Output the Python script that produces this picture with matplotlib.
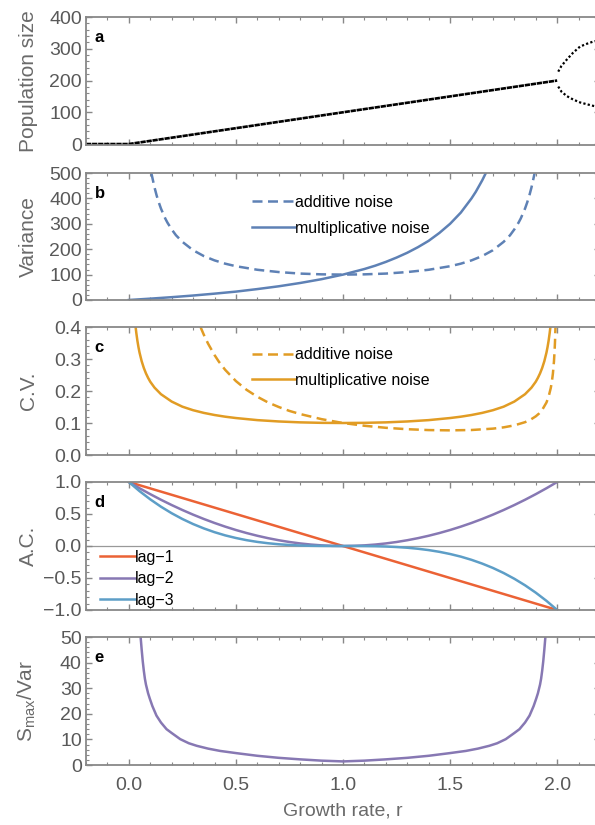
import matplotlib
matplotlib.use("Agg")
import matplotlib.pyplot as plt
from matplotlib.ticker import MultipleLocator

plt.rcParams['font.family'] = ['Liberation Sans', 'DejaVu Sans']
plt.rcParams['mathtext.fontset'] = 'custom'
plt.rcParams['mathtext.rm'] = 'Liberation Sans'
plt.rcParams['mathtext.it'] = 'Liberation Sans'

# --- a: equilibrium population vs growth rate ---
r_eq = [-0.2, 0.0, 0.5, 1.0, 1.5, 2.0]
n_eq = [0, 0, 50, 100, 150, 200]
r_branch = [2.005, 2.02, 2.045, 2.075, 2.107, 2.14, 2.17, 2.2]
n_upper = [228, 246, 266, 288, 307, 316, 323, 327]
n_lower = [181, 165, 151, 140, 131, 125, 120, 116]

# --- b: variance ---
r_add = [0.105, 0.11, 0.12, 0.13, 0.14, 0.15, 0.17, 0.18, 0.2, 0.22, 0.25, 0.3,
         0.35, 0.4, 0.45, 0.5, 0.6, 0.7, 0.8, 0.9, 1.0, 1.1, 1.2, 1.3, 1.4, 1.5,
         1.55, 1.6, 1.65, 1.7, 1.75, 1.78, 1.8, 1.82, 1.83, 1.85, 1.86, 1.87,
         1.88, 1.89, 1.895]
var_add = [500, 481, 443, 411, 384, 360, 321, 305, 278, 255, 229, 196,
           173, 156, 143, 133, 119, 110, 104, 101, 100, 101, 104, 110, 119, 133,
           143, 156, 173, 196, 229, 255, 278, 305, 321, 360, 384, 411,
           443, 481, 500]
r_mult = [0.0, 0.1, 0.2, 0.3, 0.4, 0.5, 0.6, 0.7, 0.8, 0.9, 1.0, 1.1, 1.15,
          1.2, 1.25, 1.3, 1.35, 1.4, 1.45, 1.5, 1.55, 1.6, 1.62, 1.64, 1.65, 1.667]
var_mult = [0, 5.3, 11.1, 17.6, 25, 33, 43, 54, 67, 82, 100, 122, 135,
            150, 167, 186, 208, 233, 264, 300, 344, 400, 426, 456, 471, 500]

# --- c: coefficient of variation ---
r_cv_add = [0.335, 0.34, 0.35, 0.37, 0.4, 0.42, 0.45, 0.5, 0.55, 0.6, 0.65, 0.7,
            0.75, 0.8, 0.9, 1.0, 1.1, 1.2, 1.3, 1.4, 1.5, 1.6, 1.7, 1.75, 1.8,
            1.85, 1.875, 1.9, 1.915, 1.93, 1.95, 1.96, 1.97, 1.975, 1.98, 1.985,
            1.988, 1.99, 1.992]
cv_add = [0.400, 0.3915, 0.376, 0.348, 0.3125, 0.292, 0.266, 0.231, 0.2036,
          0.182, 0.1642, 0.150, 0.1377, 0.128, 0.112, 0.100, 0.0914, 0.0850,
          0.0806, 0.0779, 0.0770, 0.0781, 0.0824, 0.0864, 0.0926, 0.1026,
          0.1102, 0.1208, 0.1294, 0.141, 0.164, 0.1822, 0.209, 0.2278, 0.254,
          0.292, 0.3257, 0.356, 0.398]
r_cv_mult = [0.032, 0.035, 0.04, 0.045, 0.05, 0.06, 0.07, 0.08, 0.09, 0.1, 0.12,
             0.15, 0.2, 0.25, 0.3, 0.35, 0.4, 0.45, 0.5, 0.6, 0.7, 0.8, 0.9, 1.0,
             1.1, 1.2, 1.3, 1.4, 1.5, 1.55, 1.6, 1.65, 1.7, 1.75, 1.8, 1.85, 1.88,
             1.9, 1.91, 1.92, 1.93, 1.94, 1.95, 1.955, 1.96, 1.965, 1.968]
cv_mult = [0.398, 0.381, 0.357, 0.337, 0.320, 0.293, 0.272, 0.255, 0.241, 0.229,
           0.2105, 0.190, 0.167, 0.151, 0.140, 0.1316, 0.125, 0.1197, 0.1155,
           0.109, 0.1048, 0.102, 0.1005, 0.100, 0.1005, 0.102, 0.1048, 0.109,
           0.1155, 0.1197, 0.125, 0.1316, 0.140, 0.151, 0.167, 0.190, 0.2105,
           0.229, 0.241, 0.255, 0.272, 0.293, 0.320, 0.337, 0.357, 0.381, 0.398]

# --- d: autocorrelation ---
r_lag1 = [0.0, 2.0]
ac_lag1 = [1.0, -1.0]
r_ac = [0.0, 0.05, 0.1, 0.15, 0.2, 0.25, 0.3, 0.35, 0.4, 0.45, 0.5, 0.55, 0.6,
        0.65, 0.7, 0.75, 0.8, 0.85, 0.9, 0.95, 1.0, 1.05, 1.1, 1.15, 1.2, 1.25,
        1.3, 1.35, 1.4, 1.45, 1.5, 1.55, 1.6, 1.65, 1.7, 1.75, 1.8, 1.85, 1.9,
        1.95, 2.0]
ac_lag2 = [1.0, 0.9025, 0.81, 0.7225, 0.64, 0.5625, 0.49, 0.4225, 0.36, 0.3025,
           0.25, 0.2025, 0.16, 0.1225, 0.09, 0.0625, 0.04, 0.0225, 0.01, 0.0025,
           0.0, 0.0025, 0.01, 0.0225, 0.04, 0.0625, 0.09, 0.1225, 0.16, 0.2025,
           0.25, 0.3025, 0.36, 0.4225, 0.49, 0.5625, 0.64, 0.7225, 0.81, 0.9025, 1.0]
ac_lag3 = [1.0, 0.857, 0.729, 0.614, 0.512, 0.422, 0.343, 0.275, 0.216, 0.166,
           0.125, 0.091, 0.064, 0.043, 0.027, 0.016, 0.008, 0.003, 0.001, 0.0001,
           0.0, -0.0001, -0.001, -0.003, -0.008, -0.016, -0.027, -0.043, -0.064,
           -0.091, -0.125, -0.166, -0.216, -0.275, -0.343, -0.422, -0.512, -0.614,
           -0.729, -0.857, -1.0]

# --- e: spectral peak over variance ---
r_spec = [0.055, 0.06, 0.065, 0.07, 0.075, 0.08, 0.09, 0.098, 0.11, 0.129, 0.15,
          0.176, 0.2, 0.24, 0.28, 0.317, 0.37, 0.426, 0.505, 0.6, 0.7, 0.8, 0.9,
          1.0, 1.1, 1.2, 1.3, 1.4, 1.495, 1.574, 1.63, 1.683, 1.72, 1.76, 1.8,
          1.824, 1.85, 1.871, 1.89, 1.902, 1.91, 1.92, 1.925, 1.93, 1.935, 1.94,
          1.945]
spec_ratio = [50, 45, 40.5, 36.8, 33.7, 31.4, 28, 25.9, 23, 19.3, 16.6, 14.0,
              12.5, 10.1, 8.5, 7.5, 6.4, 5.5, 4.6, 3.6, 2.8, 2.2, 1.7, 1.4, 1.7,
              2.2, 2.8, 3.6, 4.6, 5.5, 6.4, 7.5, 8.5, 10.1, 12.5, 14.0, 16.6,
              19.3, 23, 25.9, 28, 31.4, 33.7, 36.8, 40.5, 45, 50]

BLUE = '#5E81B5'
ORANGE = '#E19C24'
RED = '#EB6235'
PURPLE = '#8778B3'
LBLUE = '#5D9EC7'
TICKC = '#595959'
LABC = '#6a6a6a'
SPINEC = '#888888'

W, H = 595, 825
fig = plt.figure(figsize=(W / 100, H / 100), dpi=100)

left, right = 86, 600
rows = [(17, 145), (173, 300), (327, 455), (482, 610), (637, 765)]
axes = []
for top, bot in rows:
    ax = fig.add_axes([left / W, 1 - bot / H, (right - left) / W, (bot - top) / H])
    axes.append(ax)

ylims = [(-3, 400), (0, 500), (0, 0.4), (-1, 1), (0, 50)]
ymaj = [100, 100, 0.1, 0.5, 10]
ylabels = ['Population size', 'Variance', 'C.V.', 'A.C.',
           r'$\mathregular{S_{max}/Var}$']
letters = ['a', 'b', 'c', 'd', 'e']

for i, ax in enumerate(axes):
    ax.set_xlim(-0.2, 2.2)
    ax.set_ylim(*ylims[i])
    ax.xaxis.set_major_locator(MultipleLocator(0.5))
    ax.xaxis.set_minor_locator(MultipleLocator(0.1))
    ax.yaxis.set_major_locator(MultipleLocator(ymaj[i]))
    ax.yaxis.set_minor_locator(MultipleLocator(ymaj[i] / 5))
    ax.tick_params(which='both', direction='in', top=True, right=True,
                   colors=SPINEC, labelcolor=TICKC, labelsize=14, pad=3)
    ax.tick_params(which='major', length=4, width=1)
    ax.tick_params(which='minor', length=2, width=0.8)
    ax.tick_params(axis='x', pad=9)
    for s in ax.spines.values():
        s.set_color(SPINEC)
        s.set_linewidth(1.3)
    ax.set_ylabel(ylabels[i], fontsize=15, color=LABC)
    ax.yaxis.set_label_coords(-0.093, 0.5)
    ax.text(0.017, 0.84, letters[i], transform=ax.transAxes, fontsize=12,
            fontweight='bold', va='center', ha='left', color='black')
    if i < 4:
        ax.tick_params(labelbottom=False)

# a
ax = axes[0]
ax.plot(r_eq, n_eq, color='black', lw=1.9, linestyle=(0, (2.0, 0.3)))
ax.plot(r_branch, n_upper, color='black', lw=1.6, linestyle=(0, (1, 1)))
ax.plot(r_branch, n_lower, color='black', lw=1.6, linestyle=(0, (1, 1)))

# b
ax = axes[1]
ax.plot(r_add, var_add, color=BLUE, lw=1.8, dashes=(4, 2.2), label='additive noise')
ax.plot(r_mult, var_mult, color=BLUE, lw=1.8, label='multiplicative noise')
ax.legend(loc='upper left', bbox_to_anchor=(0.323, 0.83), frameon=False,
          fontsize=11.5, handlelength=2.7, handletextpad=0.0, labelspacing=0.7,
          borderpad=0, borderaxespad=0)

# c
ax = axes[2]
ax.plot(r_cv_add, cv_add, color=ORANGE, lw=1.8, dashes=(4, 2.2), label='additive noise')
ax.plot(r_cv_mult, cv_mult, color=ORANGE, lw=1.8, label='multiplicative noise')
ax.legend(loc='upper left', bbox_to_anchor=(0.323, 0.84), frameon=False,
          fontsize=11.5, handlelength=2.7, handletextpad=0.0, labelspacing=0.65,
          borderpad=0, borderaxespad=0)

# d
ax = axes[3]
ax.axhline(0, color='#999999', lw=0.9, zorder=1)
ax.plot(r_lag1, ac_lag1, color=RED, lw=1.8, label='lag\u22121')
ax.plot(r_ac, ac_lag2, color=PURPLE, lw=1.8, label='lag\u22122')
ax.plot(r_ac, ac_lag3, color=LBLUE, lw=1.8, label='lag\u22123')
ax.legend(loc='upper left', bbox_to_anchor=(0.027, 0.47), frameon=False,
          fontsize=11.5, handlelength=2.2, handletextpad=0.0, labelspacing=0.4,
          borderpad=0, borderaxespad=0)

# e
ax = axes[4]
ax.plot(r_spec, spec_ratio, color=PURPLE, lw=1.8)
ax.set_xlabel('Growth rate, r', fontsize=14, color=LABC, labelpad=6)

fig.savefig('out.png', dpi=100)
